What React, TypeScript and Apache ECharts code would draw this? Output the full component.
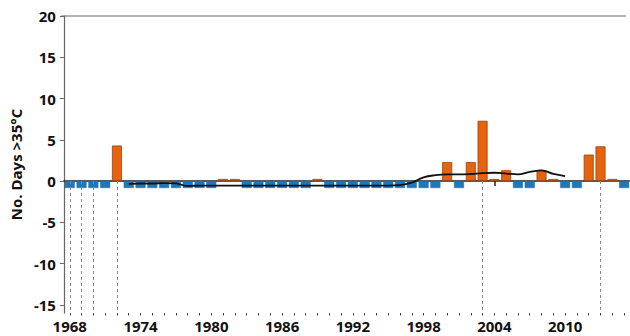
import React, { useEffect, useRef } from "react";
import * as echarts from "echarts";

const years = [
  "1968", "1969", "1970", "1971", "1972", "1973", "1974", "1975", "1976", "1977",
  "1978", "1979", "1980", "1981", "1982", "1983", "1984", "1985", "1986", "1987",
  "1988", "1989", "1990", "1991", "1992", "1993", "1994", "1995", "1996", "1997",
  "1998", "1999", "2000", "2001", "2002", "2003", "2004", "2005", "2006", "2007",
  "2008", "2009", "2010", "2011", "2012", "2013", "2014", "2015",
];

// days > 35°C per year (0 = shown as blue marker)
const days = [
  0, 0, 0, 0, 4.3, 0, 0, 0, 0, 0,
  0, 0, 0, 0.25, 0.25, 0, 0, 0, 0, 0,
  0, 0.25, 0, 0, 0, 0, 0, 0, 0, 0,
  0, 0, 2.3, 0, 2.3, 7.3, 0.25, 1.3, 0, 0,
  1.3, 0.25, 0, 0, 3.2, 4.2, 0.25, 0,
];

// smoothed running mean (null = not drawn)
const runningMean: (number | null)[] = [
  null, null, null, null, null, -0.35, -0.3, -0.3, -0.25, -0.3,
  -0.6, -0.55, -0.55, -0.55, -0.55, -0.55, -0.55, -0.55, -0.55, -0.55,
  -0.55, -0.55, -0.55, -0.55, -0.55, -0.55, -0.55, -0.55, -0.5, -0.2,
  0.45, 0.7, 0.8, 0.8, 0.85, 0.95, 1.0, 0.9, 0.8, 1.1,
  1.3, 0.85, 0.6, null, null, null, null, null,
];

const dashedYears = ["1968", "1969", "1970", "1972", "2003", "2013"];

const yTicks = [-15, -10, -5, 0, 5, 10, 15, 20];
const yMin = -16;
const yMax = 20;
const zeroMarker = -0.85;

const FONT = "'Open Sans', 'DejaVu Sans', sans-serif";

export default function App() {
  const ref = useRef<HTMLDivElement>(null);
  useEffect(() => {
    if (!ref.current) return;
    const chart = echarts.init(ref.current, null, { renderer: "svg" });
    const orange = days.map((v) => (v > 0 ? v : "-"));
    const blue = days.map((v) => (v === 0 ? zeroMarker : "-"));
    const mean = runningMean.map((v) => (v === null ? "-" : v));
    chart.setOption({
      animation: false,
      grid: { left: 61, top: 16, width: 573.6, height: 297 },
      xAxis: [
        {
          type: "category",
          data: years,
          position: "bottom",
          axisLine: { show: true, lineStyle: { color: "#222", width: 1.5 } },
          axisTick: {
            show: true,
            alignWithLabel: true,
            interval: 5,
            length: 5,
            lineStyle: { color: "#222", width: 1.5 },
          },
          axisLabel: {
            interval: 5,
            margin: 5,
            color: "#111",
            fontFamily: FONT,
            fontWeight: "bold",
            fontSize: 15,
          },
          splitLine: { show: false },
        },
        {
          type: "category",
          data: years,
          position: "bottom",
          axisLine: { show: false },
          axisTick: {
            show: true,
            alignWithLabel: true,
            interval: 0,
            length: 2.5,
            lineStyle: { color: "#444", width: 1 },
          },
          axisLabel: { show: false },
          splitLine: { show: false },
        },
      ],
      yAxis: {
        type: "value",
        min: yMin,
        max: yMax,
        name: "No. Days >35°C",
        nameLocation: "middle",
        nameGap: 36,
        nameTextStyle: {
          color: "#111",
          fontFamily: FONT,
          fontWeight: "bold",
          fontSize: 15,
        },
        axisLine: { show: true, lineStyle: { color: "#666", width: 1.2 } },
        axisTick: {
          show: true,
          length: 4,
          customValues: yTicks,
          lineStyle: { color: "#666" },
        },
        axisLabel: {
          customValues: yTicks,
          margin: 8,
          color: "#111",
          fontFamily: FONT,
          fontWeight: "bold",
          fontSize: 15,
        },
        splitLine: { show: false },
      },
      graphic: [
        {
          type: "line",
          shape: { x1: 61, y1: 16, x2: 626, y2: 16 },
          style: { stroke: "#9a9a9a", lineWidth: 1.5 },
          silent: true,
        },
      ],
      series: [
        {
          type: "bar",
          name: "zero",
          xAxisIndex: 0,
          data: blue,
          barWidth: 10,
          barGap: "-100%",
          itemStyle: { color: "#1f77b8", borderColor: "#2a6a9a", borderWidth: 0.5 },
          markLine: {
            silent: true,
            symbol: "none",
            label: { show: false },
            lineStyle: { color: "#8a8a8a", type: [3, 3], width: 1 },
            data: dashedYears.map((y) => [
              { coord: [y, 0] },
              { coord: [y, yMin] },
            ]),
          },
          z: 2,
        },
        {
          type: "bar",
          name: "days",
          xAxisIndex: 0,
          data: orange,
          barWidth: 10,
          barGap: "-100%",
          itemStyle: { color: "#e5630e", borderColor: "#9c430d", borderWidth: 0.8 },
          z: 3,
        },
        {
          type: "line",
          name: "mean",
          xAxisIndex: 0,
          data: mean,
          smooth: 0.4,
          showSymbol: false,
          symbol: "none",
          connectNulls: false,
          lineStyle: { color: "#111", width: 1.8 },
          z: 4,
        },
      ],
    });
    return () => chart.dispose();
  }, []);
  return (
    <div
      ref={ref}
      style={{ position: "absolute", left: 0, top: 0, width: 630, height: 336, background: "#fff" }}
    />
  );
}
